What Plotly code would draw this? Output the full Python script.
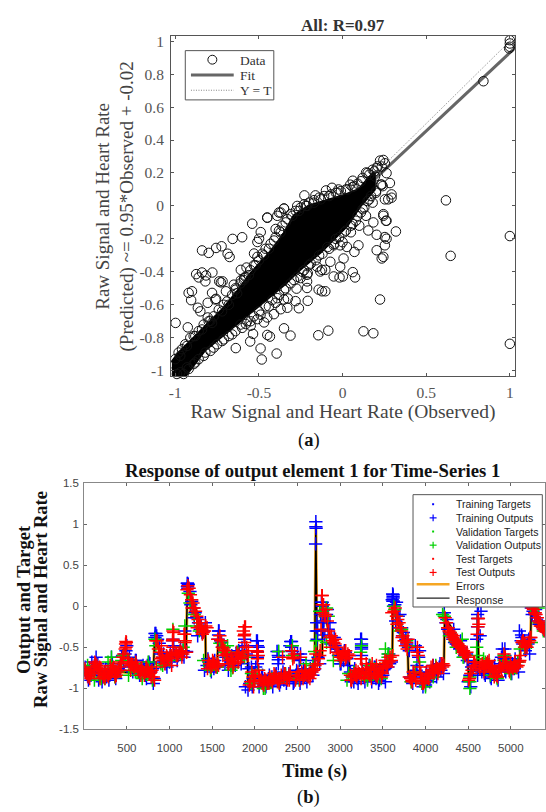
import plotly.graph_objects as go

W, H = 546, 812
SERIF = "Liberation Serif"
SANS = "Liberation Sans"

# ---------- panel (a) data ----------
outlier_x = [-0.998,-0.925,-0.84,-0.80,-0.756,-0.723,-0.687,-0.675,-0.657,-0.60,-0.54,-0.45,-0.40,-0.37,-0.35,-0.39,
 -0.875,-0.84,-0.86,-0.816,-0.82,-0.778,-0.92,-0.90,-0.905,-0.865,-0.85,-0.806,-0.78,-0.76,-0.737,-0.717,-0.727,-0.697,-0.65,-0.756,
 -0.806,-0.79,-0.638,-0.535,-0.552,-0.49,-0.483,-0.394,-0.45,-0.434,-0.35,-0.311,-0.145,-0.085,0.125,0.184,0.224,0.646,1.0,1.0,
 -0.261,-0.208,-0.33,-0.281,-0.40,-0.35,-0.327,-0.37,-0.41,-0.45,-0.469,-0.509,-0.578,-0.549,-0.275,-0.212,-0.143,-0.103,-0.123,
 -0.053,-0.018,0.002,0.075,0.061,0.006,-0.014,-0.073,-0.103,-0.133,-0.152,-0.123,0.234,0.244,0.204,0.253,0.253,0.263,0.319,0.204,0.154,
 0.184,0.244,0.259,0.071,0.095,0.026,-0.014,-0.053,-0.608,-0.574,-0.588,-0.529,-0.509,-0.509,-0.489,-0.499,-0.608,-0.638,
 -0.212,-0.212,-0.251,-0.208,
 1.0,1.0,1.0,1.0,0.996,0.842,0.618,0.244,0.224,0.253,0.234,0.204,0.141,0.061,0.194,0.263,0.283,0.234,0.293,0.273,0.253,0.293,0.244,0.263,
 -0.228,-0.162,-0.099,-0.063,-0.024,0.046,-0.35,-0.38,-0.45,-0.271,-0.212]
outlier_y = [-0.71,-0.737,-0.27,-0.285,-0.255,-0.245,-0.29,-0.31,-0.20,-0.19,-0.108,-0.072,-0.14,-0.04,-0.016,-0.06,
 -0.414,-0.404,-0.434,-0.422,-0.458,-0.404,-0.528,-0.518,-0.572,-0.618,-0.64,-0.588,-0.528,-0.568,-0.458,-0.458,-0.464,-0.518,-0.478,-0.564,
 -0.677,-0.697,-0.863,-0.777,-0.823,-0.865,-0.932,-0.896,-0.783,-0.793,-0.743,-0.787,-0.785,-0.757,-0.761,-0.773,-0.568,-0.303,-0.183,-0.837,
 -0.621,-0.576,-0.618,-0.578,-0.588,-0.568,-0.562,-0.627,-0.657,-0.677,-0.707,-0.687,-0.717,-0.727,-0.502,-0.498,-0.508,-0.518,-0.518,
 -0.428,-0.434,-0.428,-0.434,-0.402,-0.319,-0.369,-0.339,-0.388,-0.398,-0.369,-0.388,-0.319,-0.309,-0.269,-0.239,-0.189,-0.199,-0.155,-0.175,-0.149,
 -0.10,-0.06,-0.09,-0.279,-0.239,-0.249,-0.239,-0.239,-0.388,-0.374,-0.438,-0.289,-0.309,-0.219,-0.159,-0.199,-0.452,-0.508,
 -0.418,-0.458,-0.438,-0.408,
 1.036,1.006,0.986,0.966,0.956,0.757,0.034,0.279,0.275,0.259,0.239,0.229,0.203,0.153,0.179,0.199,0.139,0.129,0.07,0.04,0.04,0.05,-0.05,-0.09,
 0.064,0.064,0.094,0.11,0.10,0.129,-0.016,-0.04,-0.07,0.0,0.0]
fringe_x = [-0.97,-0.93,-0.88,-0.84,-0.78,-0.72,-0.68,-0.63,-0.59,-0.56,-0.52,-0.47,-0.44,-0.41,-0.37,-0.34,-0.30,-0.26,-0.22,-0.17,-0.13,-0.08,-0.03,0.02,0.07,0.11,0.16,0.19,0.21,
 -0.99,-0.97,-0.93,-0.88,-0.82,-0.77,-0.71,-0.66,-0.60,-0.55,-0.49,-0.44,-0.39,-0.34,-0.29,-0.24,-0.19,-0.14,-0.09,-0.04,0.01,0.06,0.09,0.12,0.16,0.20,0.24,0.18,0.14,0.10,0.05,0.0]
fringe_y = [-0.91,-0.85,-0.79,-0.75,-0.71,-0.64,-0.60,-0.53,-0.45,-0.42,-0.36,-0.30,-0.26,-0.21,-0.16,-0.10,-0.06,-0.03,0.0,0.02,0.04,0.06,0.08,0.10,0.12,0.15,0.19,0.21,0.24,
 -1.02,-1.01,-0.98,-0.95,-0.89,-0.86,-0.81,-0.78,-0.74,-0.70,-0.66,-0.61,-0.56,-0.50,-0.45,-0.40,-0.35,-0.30,-0.25,-0.20,-0.16,-0.11,-0.06,-0.02,0.04,0.08,0.12,0.02,-0.06,-0.12,-0.16,-0.22]
stipple_x = [-1.0,-0.98,-0.96,-0.94,-0.91,-0.89,-0.86,-0.83,-0.80,-0.77,-0.74,-0.71,-0.69,-0.66,-0.64,-0.61,-0.58,-0.55,-0.53,-0.50,-0.48,-0.46,-0.43,-0.40,-0.38,-0.36,-0.33,-0.31,-0.28,-0.25,-0.23,-0.20,-0.17,-0.14,-0.11,-0.07,-0.04,-0.01,0.03,0.06,0.09,0.12,0.15,0.18,
 -0.95,-0.92,-0.89,-0.86,-0.83,-0.79,-0.75,-0.72,-0.68,-0.64,-0.61,-0.57,-0.53,-0.50,-0.46,-0.42,-0.38,-0.35,-0.31,-0.27,-0.23,-0.20,-0.16,-0.12,-0.08,-0.05,-0.02,0.02,0.05,0.08,0.11,0.13,0.15,0.17,0.20,0.23]
stipple_y = [-0.93,-0.89,-0.87,-0.84,-0.80,-0.79,-0.76,-0.72,-0.70,-0.67,-0.63,-0.60,-0.58,-0.54,-0.50,-0.47,-0.43,-0.39,-0.36,-0.33,-0.29,-0.26,-0.23,-0.19,-0.15,-0.12,-0.08,-0.05,-0.03,-0.01,0.01,0.02,0.035,0.05,0.06,0.07,0.08,0.09,0.10,0.115,0.135,0.17,0.20,0.22,
 -1.02,-0.99,-0.96,-0.93,-0.91,-0.88,-0.84,-0.82,-0.79,-0.76,-0.72,-0.70,-0.67,-0.64,-0.61,-0.57,-0.54,-0.51,-0.47,-0.43,-0.39,-0.36,-0.33,-0.29,-0.26,-0.23,-0.19,-0.15,-0.12,-0.09,-0.04,-0.01,0.03,0.06,0.09,0.13]
# Fully overplotted ink of the dense cloud, traced as an outline
cloud_x = [-1.02,-0.983,-0.904,-0.825,-0.707,-0.627,-0.548,-0.429,-0.35,-0.29,-0.2,-0.1,0.0,0.1,0.15,0.19,
           0.19,0.105,0.026,-0.132,-0.27,-0.35,-0.469,-0.588,-0.726,-0.825,-0.944,-1.02]
cloud_y = [-0.95,-0.897,-0.817,-0.737,-0.618,-0.518,-0.41,-0.279,-0.17,-0.06,0.0,0.03,0.06,0.1,0.16,0.2,
           0.1,0.0,-0.12,-0.28,-0.399,-0.478,-0.578,-0.678,-0.797,-0.877,-1.036,-1.03]
fit_x = [-1.02, 1.03]
fit_y = [-0.989, 0.958]
unity_x = [-1.02, 1.03]
unity_y = [-1.02, 1.03]

# ---------- panel (b) data ----------
train_t = list(range(20, 5401, 20))
train_y = [
 -0.80,-0.85,-0.76,-0.84,-0.75,-0.72,-0.62,-0.70,-0.80,-0.84,
 -0.86,-0.80,-0.86,-0.78,-0.84,-0.62,-0.76,-0.84,-0.80,-0.76,
 -0.78,-0.62,-0.70,-0.58,-0.48,-0.66,-0.74,-0.70,-0.72,-0.66,
 -0.74,-0.80,-0.76,-0.82,-0.78,-0.84,-0.72,-0.68,-0.80,-0.76,
 -0.88,-0.33,-0.40,-0.45,-0.58,-0.62,-0.66,-0.70,-0.64,-0.68,
 -0.62,-0.40,-0.60,-0.58,-0.60,-0.56,-0.58,-0.54,-0.30,-0.55,
 0.27,0.18,0.06,-0.02,-0.08,-0.14,-0.20,-0.28,-0.32,-0.30,
 -0.20,-0.72,-0.68,-0.74,-0.70,-0.76,-0.72,-0.74,-0.30,-0.42,
 -0.50,-0.56,-0.62,-0.58,-0.66,-0.72,-0.68,-0.64,-0.58,-0.62,
 -0.56,-0.70,-0.62,-0.40,-0.58,-1.02,-0.94,-0.74,-0.88,-0.84,
 -0.42,-0.50,-0.92,-0.86,-0.96,-0.90,-0.94,-0.88,-0.92,-0.86,
 -0.90,-0.84,-0.55,-0.62,-0.92,-0.86,-0.90,-0.84,-0.88,-0.82,
 -0.43,-0.55,-0.92,-0.84,-0.58,-0.66,-0.88,-0.82,-0.86,-0.84,
 -0.86,-0.82,-0.80,-0.84,-0.76,-0.30,-0.62,-0.70,0.05,-0.05,
 -0.35,-0.10,-0.28,-0.20,-0.38,-0.45,-0.48,-0.52,-0.60,-0.70,
 -0.62,-0.66,-0.56,-0.64,-0.60,-0.80,-0.86,-0.92,-0.82,-0.88,
 -0.84,-0.40,-0.78,-0.86,-0.82,-0.88,-0.72,-0.84,-0.86,-0.74,
 -0.88,-0.84,-0.90,-0.80,-0.84,-0.76,-0.66,-0.74,-0.70,-0.68,
 0.12,0.02,0.05,-0.12,-0.10,-0.26,-0.32,-0.42,-0.46,-0.50,
 -0.86,-0.92,-0.82,-0.48,-0.72,-0.62,-0.86,-0.94,-0.88,-0.96,
 -0.90,-0.84,-0.86,-0.78,-0.82,-0.76,-0.80,-0.74,-0.78,-0.72,
 -0.08,-0.20,-0.28,-0.32,-0.36,-0.40,-0.44,-0.46,-0.48,-0.52,
 -0.50,-0.56,-0.60,-0.58,-0.92,-0.84,-0.74,-0.78,-0.72,-0.40,
 0.03,-0.36,-0.80,-0.76,-0.84,-0.70,-0.78,-0.86,-0.74,-0.82,
 -0.80,-0.86,-0.76,-0.70,-0.52,-0.64,-0.80,-0.72,-0.74,-0.78,
 -0.70,-0.76,-0.72,-0.68,-0.30,-0.42,-0.46,-0.42,-0.50,-0.46,
 -0.58,-0.02,-0.06,-0.10,-0.14,-0.18,-0.20,-0.24,-0.28,-0.30]
train2_t = list(range(10, 5400, 40))
train2_y = [
 -0.74,-0.90,-0.68,-0.76,-0.90,-0.92,-0.76,-0.90,-0.70,-0.88,
 -0.74,-0.60,-0.54,-0.62,-0.80,-0.66,-0.84,-0.72,-0.88,-0.70,
 -0.94,-0.36,-0.68,-0.58,-0.74,-0.56,-0.48,-0.66,-0.50,-0.62,
 0.28,0.02,-0.14,-0.36,-0.24,-0.78,-0.64,-0.80,-0.66,-0.40,
 -0.44,-0.70,-0.78,-0.60,-0.72,-0.54,-0.50,-0.98,-0.76,-0.98,
 -0.74,-0.98,-0.84,-0.98,-0.84,-0.98,-0.82,-0.96,-0.80,-0.94,
 -0.48,-0.94,-0.78,-0.94,-0.76,-0.92,-0.76,-0.66,-0.40,-0.10,
 -0.18,-0.04,-0.46,-0.38,-0.56,-0.70,-0.54,-0.72,-0.92,-0.76,
 -0.94,-0.50,-0.92,-0.76,-0.92,-0.74,-0.94,-0.78,-0.92,-0.58,
 0.08,-0.18,-0.26,-0.36,-0.40,-0.54,-0.94,-0.78,-0.54,-0.98,
 -0.80,-0.92,-0.72,-0.86,-0.70,-0.82,-0.16,-0.34,-0.28,-0.46,
 -0.42,-0.62,-0.66,-0.98,-0.70,-0.84,-0.06,-0.82,-0.68,-0.88,
 -0.72,-0.90,-0.62,-0.78,-0.66,-0.82,-0.64,-0.80,-0.38,-0.54,
 -0.40,-0.10,-0.04,-0.22,-0.24]
train_extra_t = [2715,2715,2718,2712,2725,2735,830,1880,2790,3620,3615,3625,1215,1575,4610,5125,
                 2030,2030,2030,2030,2030,2275,2275,2275,2275,2430,2430,1040,3250,3250,3250,3250,4930,4930,4610,4610,4610,830,1575,1210,1210,3620,3620,3620,2790,2790,2790,2800,2800,2535,2535]
train_extra_y = [1.03,0.97,0.95,0.76,-0.2,-0.3,-0.38,-0.48,0.02,0.06,0.15,0.0,0.22,-0.35,-0.1,-0.35,
                 -0.42,-0.48,-0.55,-0.62,-0.70,-0.55,-0.60,-0.65,-0.70,-0.43,-0.50,-0.42,-0.40,-0.46,-0.52,-0.60,-0.52,-0.60,0.03,-0.15,-0.25,-0.33,-0.30,0.28,0.24,0.14,0.10,0.06,0.05,0.0,-0.10,-0.20,-0.30,-0.58,-0.65]
val_t = [180,240,320,400,460,600,620,750,800,830,900,1040,1180,1220,1290,1350,1490,1590,1680,1740,1860,1960,2100,2190,2280,2440,2480,2700,2720,2840,2860,3000,3250,3350,3450,3530,3560,3630,3660,3780,3830,3930,4000,4090,4220,4290,4360,4430,4520,4520,4600,4700,4760,4840,4920,5040,5110,5230,5330,5380,60,120,1130,1650,3100,3300,3700]
val_y = [-0.86,-0.88,-0.62,-0.80,-0.60,-0.80,-0.80,-0.68,-0.90,-0.40,-0.70,-0.28,-0.24,0.16,-0.10,-0.30,-0.76,-0.45,-0.48,-0.75,-0.60,-0.82,-1.0,-0.92,-0.55,-0.48,-0.88,-0.55,-0.42,-0.02,-0.12,-0.66,-0.48,-0.72,-0.86,-0.52,-0.62,0.0,-0.12,-0.42,-0.92,-0.68,-0.98,-0.86,-0.12,-0.32,-0.42,-0.40,-1.0,-0.92,-0.5,-0.68,-0.80,-0.86,-0.66,-0.74,-0.52,0.0,-0.2,-0.3,-0.82,-0.78,-0.58,-0.56,-0.82,-0.84,-0.3]
val2_t = list(range(40, 5400, 80))
val2_y = [
 -0.72,-0.90,-0.88,-0.68,-0.86,-0.66,-0.84,-0.70,-0.88,-0.74,
 -0.48,-0.72,-0.66,-0.58,-0.50,0.04,-0.24,-0.66,-0.78,-0.74,
 -0.50,-0.78,-0.56,-0.62,-0.94,-0.78,-1.0,-0.88,-0.92,-0.82,
 -0.60,-0.90,-0.70,-0.72,-0.06,-0.44,-0.66,-0.62,-0.90,-0.80,
 -0.56,-0.90,-0.76,-0.88,-0.58,-0.04,-0.28,-0.48,-0.80,-0.94,
 -0.88,-0.72,-0.10,-0.36,-0.50,-0.62,-0.86,-0.60,-0.64,-0.84,
 -0.88,-0.60,-0.82,-0.68,-0.50,-0.44,-0.02]
test_t = list(range(30, 5401, 30))
test_y = [
 -0.82,-0.84,-0.80,-0.78,-0.72,-0.74,-0.82,-0.84,-0.84,-0.82,
 -0.76,-0.82,-0.80,-0.74,-0.62,-0.52,-0.64,-0.72,-0.72,-0.72,
 -0.76,-0.78,-0.80,-0.80,-0.78,-0.80,-0.86,-0.42,-0.52,-0.64,
 -0.66,-0.66,-0.64,-0.60,-0.32,-0.60,-0.58,-0.56,-0.34,-0.56,
 0.22,0.08,-0.02,-0.12,-0.20,-0.28,-0.30,-0.26,-0.70,-0.72,
 -0.70,-0.70,-0.36,-0.50,-0.54,-0.60,-0.66,-0.68,-0.64,-0.60,
 -0.64,-0.56,-0.25,-0.60,-0.92,-0.86,-0.84,-0.60,-0.90,-0.92,
 -0.90,-0.92,-0.90,-0.88,-0.86,-0.88,-0.84,-0.86,-0.88,-0.84,
 -0.54,-0.62,-0.86,-0.84,-0.80,-0.84,-0.84,-0.82,-0.80,-0.76,
 -0.70,-0.60,0.13,-0.10,-0.18,-0.38,-0.42,-0.46,-0.56,-0.62,
 -0.58,-0.64,-0.58,-0.84,-0.86,-0.84,-0.80,-0.64,-0.82,-0.80,
 -0.82,-0.74,-0.78,-0.84,-0.82,-0.80,-0.74,-0.72,-0.68,-0.66,
 -0.06,-0.12,-0.20,-0.30,-0.42,-0.44,-0.86,-0.90,-0.84,-0.56,
 -0.74,-0.88,-0.92,-0.86,-0.82,-0.78,-0.78,-0.76,-0.76,-0.74,
 -0.14,-0.26,-0.32,-0.38,-0.42,-0.46,-0.50,-0.56,-0.60,-0.62,
 -0.82,-0.74,-0.72,-0.15,-0.72,-0.76,-0.70,-0.72,-0.74,-0.80,
 -0.84,-0.78,-0.76,-0.58,-0.70,-0.78,-0.74,-0.72,-0.74,-0.68,
 -0.44,-0.46,-0.50,-0.42,-0.02,-0.08,-0.14,-0.20,-0.26,-0.30]
test2_t = list(range(15, 5386, 30))
test2_y = [
 -0.78,-0.86,-0.82,-0.74,-0.70,-0.78,-0.76,-0.86,-0.80,-0.86,
 -0.78,-0.74,-0.84,-0.78,-0.70,-0.58,-0.44,-0.68,-0.70,-0.74,
 -0.72,-0.80,-0.76,-0.84,-0.76,-0.82,-0.78,-0.90,-0.42,-0.56,
 -0.62,-0.70,-0.62,-0.60,-0.42,-0.56,-0.60,-0.54,-0.58,-0.42,
 0.25,0.14,0.04,-0.06,-0.16,-0.24,-0.32,-0.24,-0.66,-0.74,
 -0.68,-0.74,-0.72,-0.42,-0.52,-0.58,-0.70,-0.64,-0.70,-0.56,
 -0.58,-0.62,-0.36,-0.50,-0.96,-0.80,-0.90,-0.54,-0.86,-0.94,
 -0.88,-0.94,-0.86,-0.92,-0.84,-0.92,-0.88,-0.62,-0.82,-0.90,
 -0.80,-0.64,-0.90,-0.80,-0.62,-0.88,-0.80,-0.86,-0.84,-0.78,
 -0.58,-0.64,-0.28,0.02,-0.04,-0.30,-0.36,-0.44,-0.50,-0.58,
 -0.62,-0.56,-0.62,-0.60,-0.90,-0.82,-0.86,-0.82,-0.76,-0.86,
 -0.76,-0.84,-0.70,-0.82,-0.86,-0.76,-0.82,-0.66,-0.74,-0.62,
 -0.60,-0.02,-0.16,-0.26,-0.36,-0.48,-0.40,-0.88,-0.80,-0.90,
 -0.60,-0.82,-0.94,-0.84,-0.88,-0.74,-0.80,-0.74,-0.78,-0.70,
 -0.72,-0.20,-0.30,-0.34,-0.40,-0.44,-0.48,-0.52,-0.58,-0.56,
 -0.88,-0.78,-0.68,-0.34,-0.76,-0.70,-0.74,-0.68,-0.78,-0.76,
 -0.80,-0.86,-0.74,-0.72,-0.62,-0.74,-0.70,-0.76,-0.72,-0.72,
 -0.60,-0.42,-0.48,-0.44,-0.38,-0.04,-0.10,-0.18,-0.24,-0.28]
test3_t = list(range(5, 5400, 60))
test3_y = [
 -0.76,-0.88,-0.68,-0.88,-0.88,-0.72,-0.86,-0.68,-0.46,-0.78,
 -0.68,-0.84,-0.74,-0.86,-0.74,-0.48,-0.60,-0.72,-0.58,-0.62,
 0.20,-0.02,-0.26,-0.34,-0.76,-0.66,-0.40,-0.60,-0.70,-0.74,
 -0.68,-0.30,-0.54,-0.98,-0.78,-0.96,-0.94,-0.82,-0.94,-0.82,
 -0.90,-0.58,-0.90,-0.78,-0.88,-0.72,-0.54,-0.12,-0.50,-0.40,
 -0.66,-0.54,-0.90,-0.78,-0.88,-0.70,-0.88,-0.72,-0.86,-0.70,
 -0.08,-0.22,-0.38,-0.52,-0.92,-0.50,-0.94,-0.84,-0.72,-0.82,
 -0.70,-0.26,-0.36,-0.48,-0.54,-0.90,-0.68,-0.22,-0.80,-0.66,
 -0.86,-0.72,-0.62,-0.80,-0.68,-0.66,-0.50,-0.38,-0.08,-0.24]
test_extra_t = [1040,1040,1040,1180,1180,1880,1880,1880,2030,2030,490,490,2785,2790,2795,3250,4615,4615,5140]
test_extra_y = [-0.40,-0.30,-0.50,-0.34,-0.44,-0.25,-0.34,-0.44,-0.56,-0.64,-0.43,-0.50,0.13,0.02,-0.08,-0.64,-0.15,-0.25,-0.42]
response_t = [1,400,810,825,950,1195,1210,1400,1420,1425,1560,1570,1700,1880,1915,1920,2700,2715,2730,2790,2795,2830,2900,3100,3115,3610,3620,3700,3790,3800,4215,4225,4490,4505,4605,4610,4625,5100,5115,5230,5240,5400]
response_y = [-0.82,-0.80,-0.82,-0.42,-0.66,-0.56,0.25,-0.30,-0.25,-0.70,-0.70,-0.38,-0.66,-0.62,-0.60,-0.92,-0.82,1.0,-0.62,-0.62,-0.10,-0.15,-0.45,-0.60,-0.85,-0.65,0.10,-0.30,-0.46,-0.86,-0.75,-0.12,-0.60,-0.85,-0.75,-0.10,-0.75,-0.72,-0.45,-0.46,0.0,-0.30]

fig = go.Figure()
INK = "#111111"

# panel (a)
fig.add_trace(go.Scatter(x=unity_x, y=unity_y, mode="lines", line=dict(color="#666", width=0.8, dash="1px,1.5px"), xaxis="x", yaxis="y", name="Y = T"))
fig.add_trace(go.Scatter(x=fit_x, y=fit_y, mode="lines", line=dict(color="#666", width=3), xaxis="x", yaxis="y", name="Fit"))
fig.add_trace(go.Scatter(x=cloud_x, y=cloud_y, mode="lines", fill="toself", fillcolor="#000", line=dict(color="#000", width=3), xaxis="x", yaxis="y", name="Data (dense)"))
fig.add_trace(go.Scatter(x=outlier_x + fringe_x + stipple_x, y=outlier_y + fringe_y + stipple_y, mode="markers", cliponaxis=False,
                         marker=dict(symbol="circle-open", size=9.5, color=INK, line=dict(width=1, color=INK)), xaxis="x", yaxis="y", name="Data"))

# panel (b)
fig.add_trace(go.Scatter(x=response_t, y=response_y, mode="lines", line=dict(color="#f5a623", width=3), xaxis="x2", yaxis="y2", name="Errors"))
fig.add_trace(go.Scatter(x=response_t, y=response_y, mode="lines", line=dict(color="#000", width=1.5), xaxis="x2", yaxis="y2", name="Response"))
plus = lambda c: dict(symbol="cross-thin-open", size=9.5, color=c, line=dict(width=1.5, color=c))
fig.add_trace(go.Scatter(x=train_t + train2_t + train_extra_t, y=train_y + train2_y + train_extra_y, mode="markers", marker=plus("#0000ff"), xaxis="x2", yaxis="y2", name="Training Outputs"))
fig.add_trace(go.Scatter(x=val_t + val2_t, y=val_y + val2_y, mode="markers", marker=plus("#00d000"), xaxis="x2", yaxis="y2", name="Validation Outputs"))
fig.add_trace(go.Scatter(x=test_t + test2_t + test3_t + test_extra_t, y=test_y + test2_y + test3_y + test_extra_y, mode="markers", marker=plus("#ff0000"), xaxis="x2", yaxis="y2", name="Test Outputs"))

def px(v): return v / W
def py(v): return 1 - v / H

shapes, ann = [], []

def text(x, y, s, size, family=SERIF, color="#333", anchor="center", angle=0):
    ann.append(dict(x=px(x), y=py(y), xref="paper", yref="paper", text=s, showarrow=False, xanchor=anchor,
                    yanchor="middle", textangle=angle, font=dict(family=family, size=size, color=color)))

def box(x0, y0, x1, y1, line="#555"):
    shapes.append(dict(type="rect", xref="paper", yref="paper", x0=px(x0), x1=px(x1), y0=py(y0), y1=py(y1),
                       fillcolor="white", line=dict(color=line, width=1), layer="above"))

def key_line(x0, x1, y, color, width, dash="solid"):
    shapes.append(dict(type="line", xref="paper", yref="paper", x0=px(x0), x1=px(x1), y0=py(y), y1=py(y),
                       line=dict(color=color, width=width, dash=dash), layer="above"))

# legend (a)
box(184.3, 45.3, 273.3, 95.3)
shapes.append(dict(type="circle", xref="paper", yref="paper", x0=px(207), x1=px(216), y0=py(50), y1=py(59), line=dict(color=INK, width=1), layer="above"))
key_line(190, 233, 70, "#666", 3)
key_line(190, 233, 85.5, "#666", 0.8, "1px,1.5px")
for yy, s in ((55.5, "Data"), (71, "Fit"), (86, "Y = T")):
    text(237, yy, s, 13.5, anchor="left")

# legend (b)
box(413.3, 496, 543.3, 610)
names = ["Training Targets", "Training Outputs", "Validation Targets", "Validation Outputs", "Test Targets", "Test Outputs", "Errors", "Response"]
cols = ["#0000ff", "#0000ff", "#00d000", "#00d000", "#ff0000", "#ff0000"]
for i, n in enumerate(names):
    yy = 505.7 + i * 13.85
    text(454, yy, n, 10.5, SANS, anchor="left", color="#222")
    if i < 6:
        if i % 2 == 0:
            shapes.append(dict(type="rect", xref="paper", yref="paper", x0=px(432.5), x1=px(434.5), y0=py(yy - 1), y1=py(yy + 1),
                               fillcolor=cols[i], line=dict(width=0), layer="above"))
        else:
            key_line(430, 437, yy, cols[i], 1.2)
            shapes.append(dict(type="line", xref="paper", yref="paper", x0=px(433.5), x1=px(433.5), y0=py(yy - 3.5), y1=py(yy + 3.5),
                               line=dict(color=cols[i], width=1.2), layer="above"))
key_line(417, 450, 587, "#f5a623", 2.5)
key_line(417, 450, 601, "#222", 1.2)

# titles and captions
text(343, 20, "<b>All: R=0.97</b>", 17)
text(309, 441.5, "(<b>a</b>)", 18.5, color="#111")
text(308, 803, "(<b>b</b>)", 18.5, color="#111")
text(312.5, 471, "<b>Response of output element 1 for Time-Series 1</b>", 18.7, color="#111")
text(22, 602, "<b>Output and Target</b>", 18.5, color="#111", angle=-90)
text(39, 602, "<b>Raw Signal and Heart Rate</b>", 18.5, color="#111", angle=-90)

fig.update_layout(
    width=W, height=H, margin=dict(l=0, r=0, t=0, b=0), autosize=False, showlegend=False,
    paper_bgcolor="white", plot_bgcolor="white", annotations=ann, shapes=shapes,
    xaxis=dict(domain=[px(170), px(515.7)], range=[-1.025, 1.03], anchor="y", tickvals=[-1, -0.5, 0, 0.5, 1], ticktext=["-1", "-0.5", "0", "0.5", "1"],
               ticks="inside", ticklen=3, tickcolor="#555", linecolor="#555", linewidth=1, mirror="ticks", showgrid=False, zeroline=False,
               tickfont=dict(family=SERIF, size=15.5, color="#555"), ticklabelstandoff=2,
               title=dict(text="Raw Signal and Heart Rate (Observed)", font=dict(family=SERIF, size=19.5, color="#444"), standoff=3)),
    yaxis=dict(domain=[py(376), py(30.7)], range=[-1.035, 1.03], anchor="x", tickvals=[-1, -0.8, -0.6, -0.4, -0.2, 0, 0.2, 0.4, 0.6, 0.8, 1],
               ticktext=["-1", "-0.8", "-0.6", "-0.4", "-0.2", "0", "0.2", "0.4", "0.6", "0.8", "1"],
               ticks="inside", ticklen=3, tickcolor="#555", linecolor="#555", linewidth=1, mirror="ticks", showgrid=False, zeroline=False,
               tickfont=dict(family=SERIF, size=15.5, color="#555"), ticklabelstandoff=3,
               title=dict(text="Raw Signal and Heart Rate<br>(Predicted) ~= 0.95*Observed + -0.02", font=dict(family=SERIF, size=19, color="#444"), standoff=0)),
    xaxis2=dict(domain=[px(82.7), 1], range=[1, 5400], anchor="y2", tickvals=[500, 1000, 1500, 2000, 2500, 3000, 3500, 4000, 4500, 5000],
                ticks="inside", ticklen=3, tickcolor="#666", linecolor="#888", linewidth=1, mirror="ticks", showgrid=False, zeroline=False,
                tickfont=dict(family=SANS, size=11.5, color="#444"), ticklabelstandoff=8,
                title=dict(text="<b>Time (s)</b>", font=dict(family=SERIF, size=18.5, color="#111"), standoff=10)),
    yaxis2=dict(domain=[py(734.3), py(484.3)], range=[-1.5, 1.5], anchor="x2", tickvals=[-1.5, -1, -0.5, 0, 0.5, 1, 1.5],
                ticktext=["-1.5", "-1", "-0.5", "0", "0.5", "1", "1.5"],
                ticks="inside", ticklen=3, tickcolor="#666", linecolor="#888", linewidth=1, mirror="ticks", showgrid=False, zeroline=False,
                tickfont=dict(family=SANS, size=11.5, color="#444"), ticklabelstandoff=2),
)
fig.write_html("out.html", config={"displayModeBar": False}, post_script="document.body.style.margin='0';document.body.style.overflow='hidden';")
